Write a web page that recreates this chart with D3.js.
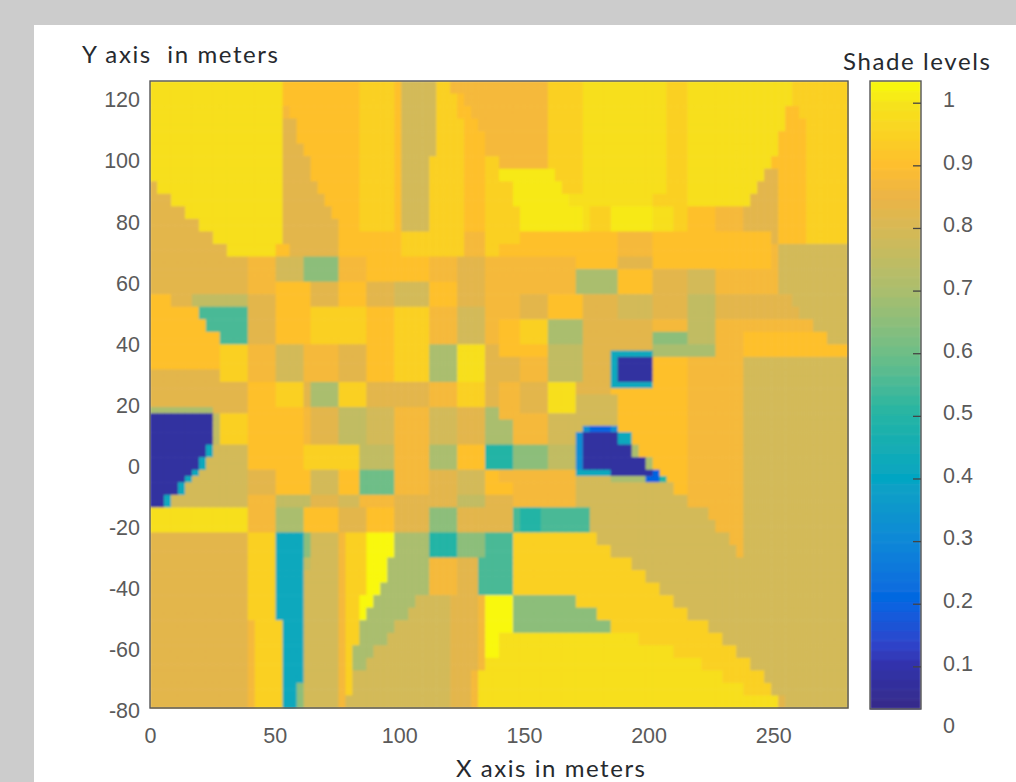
<!DOCTYPE html>
<html>
<head>
<meta charset="utf-8">
<script src="https://cdn.jsdelivr.net/npm/d3@7"></script>
<style>
html, body { margin: 0; padding: 0; background: #cccccc; }
svg { display: block; }
.tick text { font-family: "Liberation Sans", Arial, sans-serif; font-size: 21.5px; fill: #5a5a5a; }
.title { font-family: Lato, "Noto Sans", sans-serif; font-size: 24px; fill: #26292e; }
</style>
</head>
<body>
<script>
// shade levels used by the map, one letter each
var shadeCodes  = ["Y", "z", "y", "g", "o", "p", "q", "t", "k", "l", "m", "n", "s", "a", "b", "c", "d", "e"];
var shadeValues = [1.03, 1.008, 0.985, 0.945, 0.905, 0.875, 0.83, 0.79, 0.75, 0.70, 0.65, 0.60, 0.55, 0.50, 0.42, 0.32, 0.20, 0.08];

// colour bar as it reads in the picture
var colorStops = [0.03, 0.10, 0.14, 0.20, 0.30, 0.40, 0.50, 0.60, 0.70, 0.80, 0.85, 0.90, 0.95, 1.00, 1.035];
var colorRamp  = ["#352a87", "#3232aa", "#2d46cd", "#0564e1", "#0f87d7", "#05a5c3", "#23b4a5", "#6ebe87",
                  "#aabe6e", "#d7b955", "#ebb446", "#febe2d", "#fad223", "#f6e41c", "#f9fb0e"];

var xTicks = [0, 50, 100, 150, 200, 250];
var yTicks = [120, 100, 80, 60, 40, 20, 0, -20, -40, -60, -80];
var shadeTicks = [1, 0.9, 0.8, 0.7, 0.6, 0.5, 0.4, 0.3, 0.2, 0.1, 0];

// map rows, top to bottom. each run is a shade letter and the column (of 100) where it stops
var rowRuns = [
  "y19 o30 g35 o36 t41 g43 p57 g62 y74 g77 y92 g100",
  "y19 o30 g35 o36 t41 g44 o45 p57 g62 y74 g77 y92 g100",
  "y19 p20 o30 g35 o36 t41 g44 o46 p57 g62 y74 g77 y91 o93 g100",
  "y19 q21 o30 g35 o36 t41 g45 o47 p57 g62 y74 g77 y91 o94 g100",
  "y19 q21 o30 g35 o36 t41 g45 o48 p57 g62 y74 g77 y90 o94 g100",
  "y19 q22 o30 g35 o36 t41 g45 o48 p57 g62 y74 g77 y90 o94 g100",
  "y19 q23 o30 g35 o36 t40 g45 o48 g50 p57 g62 y74 g77 y89 o94 g100",
  "y19 q23 o30 g35 o36 t40 g45 o48 g50 z58 g62 y74 g77 y88 q90 o94 g100",
  "q1 y19 q24 o30 g35 o36 t40 g45 o48 g52 z59 g62 y74 g77 y87 q90 o94 g100",
  "q3 y19 q25 o30 g35 o36 t40 g45 o48 g52 z60 y72 g77 y86 q90 o94 g100",
  "q5 y19 q26 o30 g35 o36 t40 g45 o48 g53 z62 y63 g66 z72 y75 g77 o81 p85 q90 o94 g100",
  "q7 y19 q27 o30 g35 o36 t40 g45 o48 g53 z62 y63 g66 z72 y75 g77 o81 p85 q90 o94 g100",
  "q9 y19 q27 o36 g45 p48 g53 o67 p72 o89 q90 o94 g100",
  "q11 y18 o20 q27 o36 g45 p48 g50 o67 p72 o89 p90 t100",
  "q14 p18 t22 m27 p31 o40 p44 q48 p61 o67 q72 o89 p90 t100",
  "q14 p18 t22 m27 p31 o40 p44 q48 p61 l67 o72 q77 t81 p90 t100",
  "q14 p18 o23 q27 o31 q35 t40 o44 q48 p61 l67 o72 q77 t81 p90 t100",
  "o3 q6 k14 q18 o23 q27 o31 q35 t40 o44 q48 p53 q57 o62 q67 t72 q77 k81 q92 t100",
  "o7 s14 q18 o23 g31 o35 g40 p44 t48 p53 q57 o62 q67 t72 q77 k81 q93 t100",
  "o8 s14 q18 o23 g31 o35 g40 p44 t48 p50 o53 g57 l62 q72 p77 k81 p95 t100",
  "o10 s14 q18 o23 g31 o35 g40 p44 t48 p50 o53 g57 l62 q72 m77 k81 p85 o97 t100",
  "o10 g14 p18 t22 p27 q31 o35 g40 l44 y48 q50 o57 k62 q72 l81 p85 o100",
  "o10 g14 p18 t22 p27 q31 o35 g40 l44 y48 q50 o57 k62 q66 b72 l81 p85 o100",
  "o10 g14 p18 t22 p27 q31 o35 g40 l44 y48 q53 p57 k62 q66 b67 e72 o77 p85 t100",
  "q10 g14 p18 t22 p27 q31 o35 g40 l44 y48 q53 p57 k62 q66 b67 e72 o77 p85 t100",
  "q14 o18 g22 q23 l27 g31 q40 p44 g48 q50 p53 q57 y61 q66 b72 o77 p85 t100",
  "q14 o18 g22 q23 l27 g31 q40 p44 g48 q50 p53 q57 y61 q66 o77 p85 t100",
  "q14 o18 g22 q23 l27 g31 q40 p44 g48 q50 p53 q57 y61 t67 o77 p85 t100",
  "l9 q14 o22 p23 q27 k31 t35 p40 t44 q48 l50 p53 q57 y61 t67 o77 p85 t100",
  "e9 k10 g14 o22 p23 q27 k31 t35 p40 t44 q48 l50 p57 t67 o77 p85 t100",
  "e9 k10 g14 o22 p23 q27 k31 t35 p40 t44 q48 l52 p57 t67 o77 p85 t100",
  "e9 k10 g14 o22 p23 q27 k31 t35 p40 t44 q48 l52 p57 t62 c63 d66 c67 o77 p85 t100",
  "e9 k10 g14 o22 p23 q27 k31 t35 p40 t44 q48 l52 p57 t61 c62 e67 b69 o77 p85 t100",
  "e8 b9 t14 o22 g30 k35 p40 l44 o48 a52 m57 k61 c62 e69 l70 o77 p85 t100",
  "e7 b8 t14 o22 g30 k35 p40 l44 o48 a52 m57 k61 c62 e71 l72 o77 p85 t100",
  "e6 b7 t14 q18 o23 t27 o30 n35 p40 q44 t48 o50 p61 b66 e72 d73 o77 p85 t100",
  "e5 b6 t14 q18 o23 t27 o30 n35 p40 q44 t48 o50 p61 t66 l71 d73 a74 o77 p85 t100",
  "e4 b5 t14 q18 o23 t27 o30 n35 p40 q44 t48 o52 p61 t75 o77 p85 t100",
  "e2 b3 t14 p18 k23 q27 t30 p35 q44 k48 q52 p61 t77 p85 t100",
  "y14 p18 l22 o27 q31 o35 q40 m44 q52 s53 a56 s63 t80 p85 t100",
  "y14 p18 l22 o27 q31 o35 q40 m44 q52 s53 a56 s63 t81 p85 t100",
  "q14 g18 b22 m23 t27 p28 g31 Y35 l40 a44 m48 s52 g64 t83 p85 t100",
  "q14 g18 b22 m23 t27 p28 g31 Y35 l40 a44 m48 s52 g66 t84 p85 t100",
  "q14 g18 b22 k23 t27 p28 g31 Y34 l40 p44 q47 s52 g69 t100",
  "q14 g18 b22 t27 p28 g31 Y34 l40 p44 q47 s52 g71 t100",
  "q14 g18 b22 t27 p28 g31 Y33 l40 p44 q47 s52 g73 t100",
  "q14 g18 b22 t27 p28 g30 Y32 l38 t43 q47 p48 Y52 m61 g75 t100",
  "q14 g18 b22 t27 p28 g30 Y31 l37 t43 q47 p48 Y52 m64 g77 t100",
  "q14 p15 g19 b22 t27 p28 g30 l35 t43 q47 p48 Y52 m66 g80 t100",
  "q14 p15 g19 b22 t27 p28 g30 l34 t43 q47 p48 Y50 y70 g82 t100",
  "q14 p15 g19 b22 t27 p28 g29 l32 t43 q47 p48 Y50 y75 g84 t100",
  "q14 p15 g19 b22 t27 p28 g29 l31 t43 q47 p48 y79 g86 t100",
  "q14 p15 g19 b22 t27 p28 g29 t43 q46 p47 y82 g88 t100",
  "q14 p15 g19 b21 m22 t27 p28 g29 t43 q46 p47 y85 g89 t100",
  "q14 p15 g19 b21 m22 t27 p28 t43 q46 p47 y90 q91 t100"
];
// how many map rows (of 100) each line above covers
var rowRepeat = [2,2,2,2,2,2,2,2,2,2,2,2,2,2,2,2,2,2,2,2,2, 1,1, 2,2, 1,1, 2, 1,1, 1,1, 2,2,2, 1,1,
                 2,2,2,2,2,2,2,2,2,2,2,2,2,2,2,2,2,2];

var width = 1016, height = 782;
var plot = { left: 150, right: 848, top: 81, bottom: 708 };
var bar = { left: 870, right: 921 };
var columnCount = 100;

var svg = d3.select("body").append("svg").attr("width", width).attr("height", height);

svg.append("rect").attr("x", 34).attr("y", 25).attr("width", width - 34).attr("height", height - 25).attr("fill", "#ffffff");

var defs = svg.append("defs");
defs.append("filter").attr("id", "soft").attr("x", 0).attr("y", 0).attr("width", 1).attr("height", 1)
  .append("feGaussianBlur").attr("stdDeviation", 1);

var x = d3.scaleLinear().domain([0, 280]).range([plot.left, plot.right]);
var y = d3.scaleLinear().domain([-80, 120]).range([711, 100]);
var shadeY = d3.scaleLinear().domain([0, 1]).range([729, 102.7]);
var color = d3.scaleLinear().domain(colorStops).range(colorRamp).clamp(true);
var shadeOf = d3.scaleOrdinal().domain(shadeCodes).range(shadeValues);

// unpack the runs into one row of shade values per map row
var grid = [];
rowRuns.forEach(function(line, r) {
  var cells = [], start = 0;
  line.split(" ").forEach(function(run) {
    var stop = +run.slice(1);
    for (var c = start; c < stop; c++) cells.push(shadeOf(run[0]));
    start = stop;
  });
  for (var n = 0; n < rowRepeat[r]; n++) grid.push(cells);
});

var colBand = d3.scaleBand().domain(d3.range(columnCount)).range([plot.left, plot.right]);
var rowBand = d3.scaleBand().domain(d3.range(grid.length)).range([plot.top, plot.bottom]);

var cells = [];
grid.forEach(function(row, r) {
  row.forEach(function(v, c) { cells.push({ r: r, c: c, v: v }); });
});

svg.append("g").attr("filter", "url(#soft)")
  .selectAll("rect")
  .data(cells)
  .enter()
  .append("rect")
  .attr("x", function(d) { return colBand(d.c); })
  .attr("y", function(d) { return rowBand(d.r); })
  .attr("width", colBand.bandwidth() + 0.6)
  .attr("height", rowBand.bandwidth() + 0.6)
  .attr("fill", function(d) { return color(d.v); });

svg.append("rect")
  .attr("x", plot.left).attr("y", plot.top)
  .attr("width", plot.right - plot.left).attr("height", plot.bottom - plot.top)
  .attr("fill", "none").attr("stroke", "#555555").attr("stroke-width", 1.4);

var xAxis = d3.axisBottom(x).tickValues(xTicks).tickSize(0).tickPadding(20);
var yAxis = d3.axisLeft(y).tickValues(yTicks).tickSize(0).tickPadding(10)
  .tickFormat(function(d) { return String(d); });
svg.append("g").attr("transform", "translate(0," + plot.bottom + ")").call(xAxis).call(function(g) { g.select(".domain").remove(); });
svg.append("g").attr("transform", "translate(" + plot.left + ",0)").call(yAxis).call(function(g) { g.select(".domain").remove(); });

// colour bar, stepped like the original
var barSteps = d3.range(64).map(function(i) { return 0.032 + (i + 0.5) * (1.035 - 0.032) / 64; });
var stepHeight = (plot.bottom + 1 - plot.top) / 64;
svg.append("g").attr("filter", "url(#soft)").selectAll("rect")
  .data(barSteps)
  .enter()
  .append("rect")
  .attr("x", bar.left)
  .attr("y", function(d, i) { return plot.bottom + 1 - (i + 1) * stepHeight; })
  .attr("width", bar.right - bar.left)
  .attr("height", stepHeight + 0.5)
  .attr("fill", function(d) { return color(d); });

svg.append("rect")
  .attr("x", bar.left).attr("y", plot.top)
  .attr("width", bar.right - bar.left).attr("height", plot.bottom + 1 - plot.top)
  .attr("fill", "none").attr("stroke", "#555555").attr("stroke-width", 1.4);

var shadeAxis = d3.axisRight(shadeY).tickValues(shadeTicks).tickSize(-8).tickPadding(22)
  .tickFormat(function(d) { return d; });
svg.append("g").attr("transform", "translate(" + bar.right + ",0)").call(shadeAxis)
  .call(function(g) {
    g.select(".domain").remove();
    g.selectAll(".tick line").attr("stroke", "#444444").attr("stroke-width", 1.3)
      .filter(function(d) { return d === 0; }).remove();
    g.selectAll(".tick text").attr("dy", "0.18em");
  });

// captions stretched to the widths they have in the original figure
svg.append("text").attr("class", "title").attr("x", 82).attr("y", 63).attr("textLength", 196).style("white-space", "pre").text("Y axis  in meters");
svg.append("text").attr("class", "title").attr("x", 843).attr("y", 70).attr("textLength", 147).text("Shade levels");
svg.append("text").attr("class", "title").attr("x", 456).attr("y", 777).attr("textLength", 189).text("X axis in meters");
</script>
</body>
</html>
